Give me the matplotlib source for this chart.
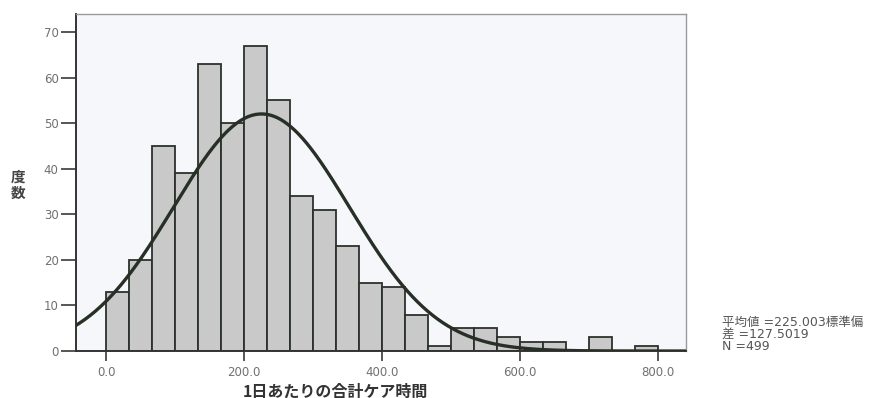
"""Histogram of daily total care time with a fitted normal curve."""

import matplotlib

matplotlib.use("Agg")
import matplotlib.pyplot as plt
import numpy as np

plt.rcParams["font.family"] = ["Noto Sans CJK JP", "DejaVu Sans"]

# --- data ------------------------------------------------------------------------
bin_edges = np.linspace(0.0, 800.0, 25)  # 24 bins, 33.3 wide
counts = [13, 20, 45, 39, 63, 50, 67, 55, 34, 31, 23, 15,
          14, 8, 1, 5, 5, 3, 2, 2, 0, 3, 0, 1]
x_ticks = [0, 200, 400, 600, 800]
y_ticks = [0, 10, 20, 30, 40, 50, 60, 70]
mean_value = 225.003
std_value = 127.5019
n_value = 499

_BAR = "#c9c9c9"
_EDGE = "#2b312b"
_CURVE = "#263026"
_TICK_TEXT = "#707070"
_FACE = "#f5f7fb"
_LATIN_FIRST = ["DejaVu Sans", "Noto Sans CJK JP"]

fig = plt.figure(figsize=(8.93, 3.98), dpi=100)
ax = fig.add_axes([0.085, 0.118, 0.683, 0.847])
ax.set_facecolor(_FACE)

widths = np.diff(bin_edges)
ax.bar(bin_edges[:-1], counts, width=widths, align="edge",
       color=_BAR, edgecolor=_EDGE, linewidth=1.3, zorder=2)

xs = np.linspace(-60, 860, 500)
bin_width = widths[0]
density = np.exp(-0.5 * ((xs - mean_value) / std_value) ** 2) / (std_value * np.sqrt(2 * np.pi))
ax.plot(xs, n_value * bin_width * density, color=_CURVE, linewidth=2.4, zorder=3)

ax.set_xlim(-44, 840)
ax.set_ylim(0, 74)
ax.set_xticks(x_ticks, [f"{t:.1f}" for t in x_ticks])
ax.set_yticks(y_ticks, [str(t) for t in y_ticks])
ax.tick_params(axis="both", direction="out", width=1.2, color="#3a3a3a",
               labelcolor=_TICK_TEXT, labelsize=8.5)
ax.tick_params(axis="y", length=11, pad=1.5)
ax.tick_params(axis="x", length=7, pad=4)
for label in ax.get_xticklabels() + ax.get_yticklabels():
    label.set_family(_LATIN_FIRST)

for side in ("left", "bottom"):
    ax.spines[side].set_color("#333333")
    ax.spines[side].set_linewidth(1.4)
for side in ("top", "right"):
    ax.spines[side].set_color("#9a9a9a")
    ax.spines[side].set_linewidth(1.0)

fig.text(0.376, 0.016, "1日あたりの合計ケア時間", ha="center", va="center",
         fontsize=11.5, fontweight="bold", color="#333333")
fig.text(0.02, 0.535, "度\n数", ha="center", va="center",
         fontsize=10.5, fontweight="bold", color="#444444", linespacing=1.0)

stats = (f"平均値 ={mean_value:.3f}標準偏\n"
         f"差 ={std_value:.4f}\n"
         f"N ={n_value}")
fig.text(0.808, 0.207, stats, ha="left", va="top", fontsize=9, family=_LATIN_FIRST,
         color="#555555", linespacing=0.92)

fig.savefig("out.png", dpi=100, facecolor="white")
